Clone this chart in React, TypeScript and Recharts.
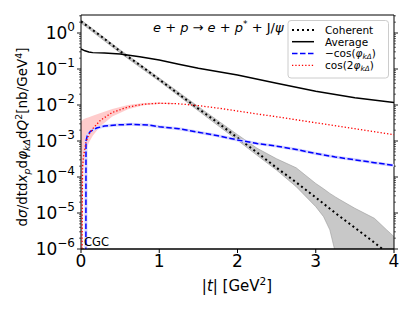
import { ComposedChart, Line, Area, XAxis, YAxis, ReferenceArea } from 'recharts';

document.body.style.margin = '0';

// Coherent (black dotted) and its grey uncertainty band
const cohT = [0, 0.25, 0.5, 0.75, 1, 1.25, 1.5, 1.75, 2, 2.25, 2.5, 2.75, 3, 3.25, 3.5, 3.75, 4];
const cohVal = [2.1, 0.84, 0.31, 0.13, 0.051, 0.02, 0.0079, 0.0032, 0.00123, 4.8e-4, 1.8e-4, 7.1e-5, 2.7e-5, 1.0e-5, 3.9e-6, 1.5e-6, 5.6e-7];
const cohBandT = [0, 0.5, 1, 1.5, 2, 2.25, 2.5, 2.75, 3, 3.1, 3.18, 3.25, 3.3, 3.5, 3.75, 3.9, 4];
const cohLo = [1.9, 0.28, 0.046, 0.0069, 1.05e-3, 4.0e-4, 1.55e-4, 5.4e-5, 1.5e-5, 7.9e-6, 3.4e-6, 8e-7, 1e-7, 1e-7, 1e-7, 1e-7, 1e-7];
const cohHi = [2.3, 0.34, 0.056, 0.009, 1.5e-3, 6.3e-4, 3.2e-4, 1.8e-4, 6.6e-5, 4.7e-5, 3.5e-5, 2.8e-5, 2.4e-5, 1.35e-5, 7.1e-6, 3.5e-6, 2.2e-6];

// Average (black solid)
const avgT = [0, 0.05, 0.1, 0.15, 0.3, 0.5, 0.75, 1, 1.25, 1.5, 2, 2.5, 3, 3.5, 4];
const avgVal = [0.36, 0.32, 0.295, 0.285, 0.28, 0.262, 0.22, 0.178, 0.135, 0.105, 0.068, 0.04, 0.024, 0.016, 0.0118];

// -cos(phi) (blue dashed)
const blueT = [0.062, 0.064, 0.08, 0.12, 0.2, 0.3, 0.45, 0.65, 0.85, 1, 1.25, 1.5, 1.75, 2, 2.25, 2.5, 2.75, 3, 3.25, 3.5, 3.75, 4];
const blueVal = [1e-7, 1.0e-3, 1.4e-3, 1.85e-3, 2.3e-3, 2.6e-3, 2.8e-3, 2.9e-3, 2.8e-3, 2.5e-3, 2.2e-3, 1.75e-3, 1.4e-3, 1.07e-3, 8.5e-4, 7.2e-4, 5.8e-4, 4.5e-4, 3.6e-4, 3.0e-4, 2.5e-4, 2.1e-4];

// cos(2phi) (red dotted) and its pink band
const redT = [0.01, 0.02, 0.03, 0.064, 0.1, 0.15, 0.25, 0.4, 0.6, 0.8, 1, 1.25, 1.5, 1.75, 2, 2.5, 3, 3.5, 4];
const redVal = [1e-7, 2e-4, 3.4e-4, 9.5e-4, 1.5e-3, 2.2e-3, 3.8e-3, 6.2e-3, 8.8e-3, 1.05e-2, 1.12e-2, 1.08e-2, 9.6e-3, 8.2e-3, 6.8e-3, 4.7e-3, 3.2e-3, 2.2e-3, 1.5e-3];
const redBandT = [0, 0.02, 0.03, 0.06, 0.1, 0.15, 0.25, 0.4, 0.6, 0.8, 1, 1.2];
const redLo = [1e-7, 1e-7, 1.5e-4, 5e-4, 9e-4, 1.4e-3, 2.6e-3, 4.8e-3, 7.6e-3, 9.8e-3, 1.07e-2, 1.07e-2];
const redHi = [3.5e-3, 3.8e-3, 4.0e-3, 4.3e-3, 4.6e-3, 5.0e-3, 6.0e-3, 7.8e-3, 1.0e-2, 1.13e-2, 1.17e-2, 1.13e-2];

const xTicks = [0, 1, 2, 3, 4];
const yDecades = [-6, -5, -4, -3, -2, -1, 0];

const cohData = cohT.map((t, i) => ({ t, v: cohVal[i] }));
const cohBand = cohBandT.map((t, i) => ({ t, band: [cohLo[i], cohHi[i]] }));
const avgData = avgT.map((t, i) => ({ t, v: avgVal[i] }));
const blueData = blueT.map((t, i) => ({ t, v: blueVal[i] }));
const redData = redT.map((t, i) => ({ t, v: redVal[i] }));
const redBand = redBandT.map((t, i) => ({ t, band: [redLo[i], redHi[i]] }));

const YMAX = 3.1623;
const yTicks: number[] = [];
yDecades.forEach((d) => {
  for (let m = 1; m <= 9; m++) {
    const v = m * Math.pow(10, d);
    if (v <= YMAX) yTicks.push(v);
  }
});

const FONT = '"DejaVu Sans", sans-serif';
const LEFT = 81;
const RIGHT = 394;

function YTick(props: any) {
  const { y, payload } = props;
  const lg = Math.log10(payload.value);
  const e = Math.round(lg);
  const major = Math.abs(lg - e) < 1e-6;
  const len = major ? 4 : 2;
  return (
    <g>
      <line x1={LEFT - len} x2={LEFT} y1={y} y2={y} stroke="#000" strokeWidth={major ? 0.9 : 0.6} />
      <line x1={RIGHT} x2={RIGHT + len} y1={y} y2={y} stroke="#000" strokeWidth={major ? 0.9 : 0.6} />
      {major && (
        <text x={LEFT - 6} y={y + 6} textAnchor="end" fontSize={17} fontFamily={FONT} fill="#000">
          10
          <tspan dy={-8} fontSize={12}>{e < 0 ? `\u2212${-e}` : `${e}`}</tspan>
        </text>
      )}
    </g>
  );
}

const sub = (s: string, italic = false, dy = 2.5) => (
  <tspan dy={dy} fontSize="0.7em" fontStyle={italic ? 'italic' : 'normal'}>{s}</tspan>
);

function LegendRow({ y, children, sample }: any) {
  return (
    <g>
      {sample}
      <text x={325} y={y + 4} fontSize={10.5} fontFamily={FONT} fill="#000">{children}</text>
    </g>
  );
}

export default function App() {
  return (
    <div style={{ position: 'relative', width: 415, height: 311, background: '#fff', fontFamily: FONT }}>
      <ComposedChart width={415} height={311} margin={{ top: 15, right: 21, left: 0, bottom: 0 }}>
        <XAxis
          dataKey="t"
          type="number"
          domain={[0, 4]}
          ticks={xTicks}
          allowDataOverflow
          height={62}
          tickSize={4}
          tickMargin={2}
          tick={{ fill: '#000', fontSize: 17, fontFamily: FONT }}
          stroke="#000"
        />
        <YAxis
          scale="log"
          domain={[1e-6, YMAX]}
          allowDataOverflow
          ticks={yTicks}
          interval={0}
          width={81}
          tick={<YTick />}
          tickLine={false}
          axisLine={false}
        />
        <Area data={cohBand} dataKey="band" type="linear" fill="#c8c8c8" fillOpacity={1} stroke="#9a9a9a" strokeWidth={0.6} isAnimationActive={false} />
        <Area data={redBand} dataKey="band" type="linear" fill="#ff0000" fillOpacity={0.2} stroke="none" isAnimationActive={false} />
        <Line data={cohData} dataKey="v" type="linear" stroke="#000" strokeWidth={2} strokeDasharray="2 3" dot={false} isAnimationActive={false} />
        <Line data={avgData} dataKey="v" type="linear" stroke="#000" strokeWidth={1.5} dot={false} isAnimationActive={false} />
        <Line data={blueData} dataKey="v" type="linear" stroke="#d4d4ff" strokeWidth={3} dot={false} isAnimationActive={false} />
        <Line data={blueData} dataKey="v" type="linear" stroke="#0000ff" strokeWidth={1.5} strokeDasharray="5.5 2.5" dot={false} isAnimationActive={false} />
        <Line data={redData} dataKey="v" type="linear" stroke="#ff0000" strokeWidth={1.3} strokeDasharray="1.3 2" dot={false} isAnimationActive={false} />
        <ReferenceArea x1={0} x2={4} y1={1e-6} y2={YMAX} fill="none" fillOpacity={0} stroke="#000" strokeWidth={1} />
      </ComposedChart>

      <svg width={415} height={311} style={{ position: 'absolute', left: 0, top: 0, pointerEvents: 'none' }}>
        <text transform="translate(27,137) rotate(-90)" textAnchor="middle" fontSize={13.5} fontFamily={FONT} fill="#000">
          d<tspan fontStyle="italic">σ</tspan>/dtd<tspan fontStyle="italic">x</tspan>
          {sub('p', true)}
          <tspan dy={-2.5}>d</tspan><tspan fontStyle="italic">φ</tspan>
          {sub('kΔ', true)}
          <tspan dy={-2.5}>d</tspan><tspan fontStyle="italic">Q</tspan>
          <tspan dy={-5} fontSize="0.7em">2</tspan>
          <tspan dy={5}>[nb/GeV</tspan>
          <tspan dy={-5} fontSize="0.7em">4</tspan>
          <tspan dy={5}>]</tspan>
        </text>

        <text x={237} y={291} textAnchor="middle" fontSize={15} fontFamily={FONT} fill="#000">
          |<tspan fontStyle="italic">t</tspan>| [GeV<tspan dy={-6} fontSize={10.5}>2</tspan><tspan dy={6}>]</tspan>
        </text>

        <text x={153} y={32} fontSize={13} fontFamily={FONT} fill="#000">
          <tspan fontStyle="italic">e</tspan> + <tspan fontStyle="italic">p</tspan> → <tspan fontStyle="italic">e</tspan> + <tspan fontStyle="italic">p</tspan>
          <tspan dy={-5} fontSize={9}>*</tspan>
          <tspan dy={5}> + J/</tspan><tspan fontStyle="italic">ψ</tspan>
        </text>

        <text x={84} y={246} fontSize={11.5} fontFamily={FONT} fill="#000">CGC</text>

        <rect x={288} y={20.5} width={100.5} height={57.5} rx={3} fill="#fff" fillOpacity={0.8} stroke="#cccccc" strokeWidth={1} />
        <LegendRow y={30} sample={<line x1={292} x2={314} y1={30} y2={30} stroke="#000" strokeWidth={2} strokeDasharray="2 3" />}>
          Coherent
        </LegendRow>
        <LegendRow y={41.7} sample={<line x1={292} x2={314} y1={41.7} y2={41.7} stroke="#000" strokeWidth={1.5} />}>
          Average
        </LegendRow>
        <LegendRow y={53.4} sample={<line x1={292} x2={314} y1={53.4} y2={53.4} stroke="#0000ff" strokeWidth={1.5} strokeDasharray="5.5 2.5" />}>
          −cos(<tspan fontStyle="italic">φ</tspan>{sub('kΔ', true, 1.5)}<tspan dy={-1.5}>)</tspan>
        </LegendRow>
        <LegendRow y={65.3} sample={<line x1={292} x2={314} y1={65.3} y2={65.3} stroke="#ff0000" strokeWidth={1.3} strokeDasharray="1.3 2" />}>
          cos(2<tspan fontStyle="italic">φ</tspan>{sub('kΔ', true, 1.5)}<tspan dy={-1.5}>)</tspan>
        </LegendRow>
      </svg>
    </div>
  );
}
